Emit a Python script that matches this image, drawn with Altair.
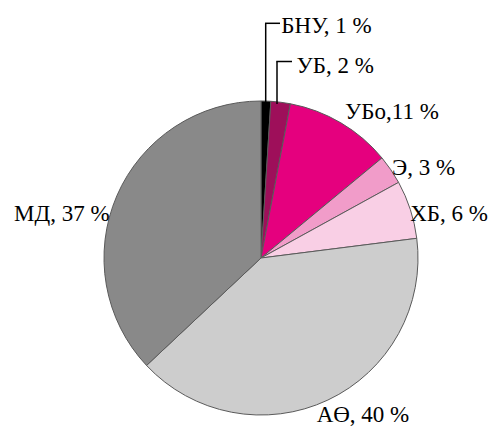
import altair as alt
import pandas as pd

labels = ["БНУ", "УБ", "УБо", "Э", "ХБ", "АӨ", "МД"]
values = [1, 2, 11, 3, 6, 40, 37]
label_texts = ["БНУ, 1 %", "УБ, 2 %", "УБо,11 %", "Э, 3 %", "ХБ, 6 %", "АӨ, 40 %", "МД, 37 %"]
colors = ["#000000", "#9e0f5a", "#e5007e", "#f19cc9", "#f9cfe5", "#cdcdcd", "#898989"]

df = pd.DataFrame({"label": labels, "value": values, "text": label_texts})
df["idx"] = range(len(df))
total = float(sum(values))
df["mid"] = df["value"].cumsum() - df["value"] / 2.0

CX, CY, R = 253, 250, 157
FONT = "Liberation Serif"
FS = 23

base = alt.Chart(df)

arcs = base.mark_arc(outerRadius=R, stroke="#5a5a5a", strokeWidth=1).encode(
    theta=alt.Theta("value:Q", stack=True),
    order=alt.Order("idx:Q", sort="ascending"),
    color=alt.Color("label:N", scale=alt.Scale(domain=labels, range=colors), legend=None),
    x=alt.value(CX),
    y=alt.value(CY),
)

# label layout: (label, radius, dx, dy, align)
layout = [
    ("БНУ", 234, 13, 2, "left"),
    ("УБ", 195, 11, 1, "left"),
    ("УБо", 171, -3, 1, "left"),
    ("Э", 162, -3, 1, "left"),
    ("ХБ", 160, -3, 5, "left"),
    ("АӨ", 180, -21, -6, "left"),
    ("МД", 165, 0, 22, "right"),
]

theta_scale = alt.Scale(domain=[0, total], range=[0, 6.283185307179586])
text_layers = []
for lab, rad, dx, dy, align in layout:
    t = base.transform_filter(alt.datum.label == lab).mark_text(
        radius=rad, dx=dx, dy=dy, align=align, baseline="middle",
        font=FONT, fontSize=FS, color="#000000",
    ).encode(
        theta=alt.Theta("mid:Q", scale=theta_scale, stack=None),
        text="text:N",
        x=alt.value(CX),
        y=alt.value(CY),
    )
    text_layers.append(t)

# leader lines for the two thin slices
lead = pd.DataFrame({"k": [0]})
lc = alt.Chart(lead)
leaders = [
    lc.mark_rule(color="#000000", strokeWidth=1.5).encode(x=alt.value(257.7), y=alt.value(15.3), y2=alt.value(96)),
    lc.mark_rule(color="#000000", strokeWidth=1.5).encode(x=alt.value(257), x2=alt.value(272), y=alt.value(15.3)),
    lc.mark_rule(color="#000000", strokeWidth=1.5).encode(x=alt.value(269), y=alt.value(53.5), y2=alt.value(96)),
    lc.mark_rule(color="#000000", strokeWidth=1.5).encode(x=alt.value(268.3), x2=alt.value(284), y=alt.value(53.5)),
]

chart = alt.layer(arcs, *leaders, *text_layers).resolve_scale(theta="independent").properties(
    width=481, height=418, padding=0, autosize=alt.AutoSizeParams(type="none")
).configure_view(stroke=None)

chart.save("out.html", embed_options={"renderer": "svg", "actions": False})
